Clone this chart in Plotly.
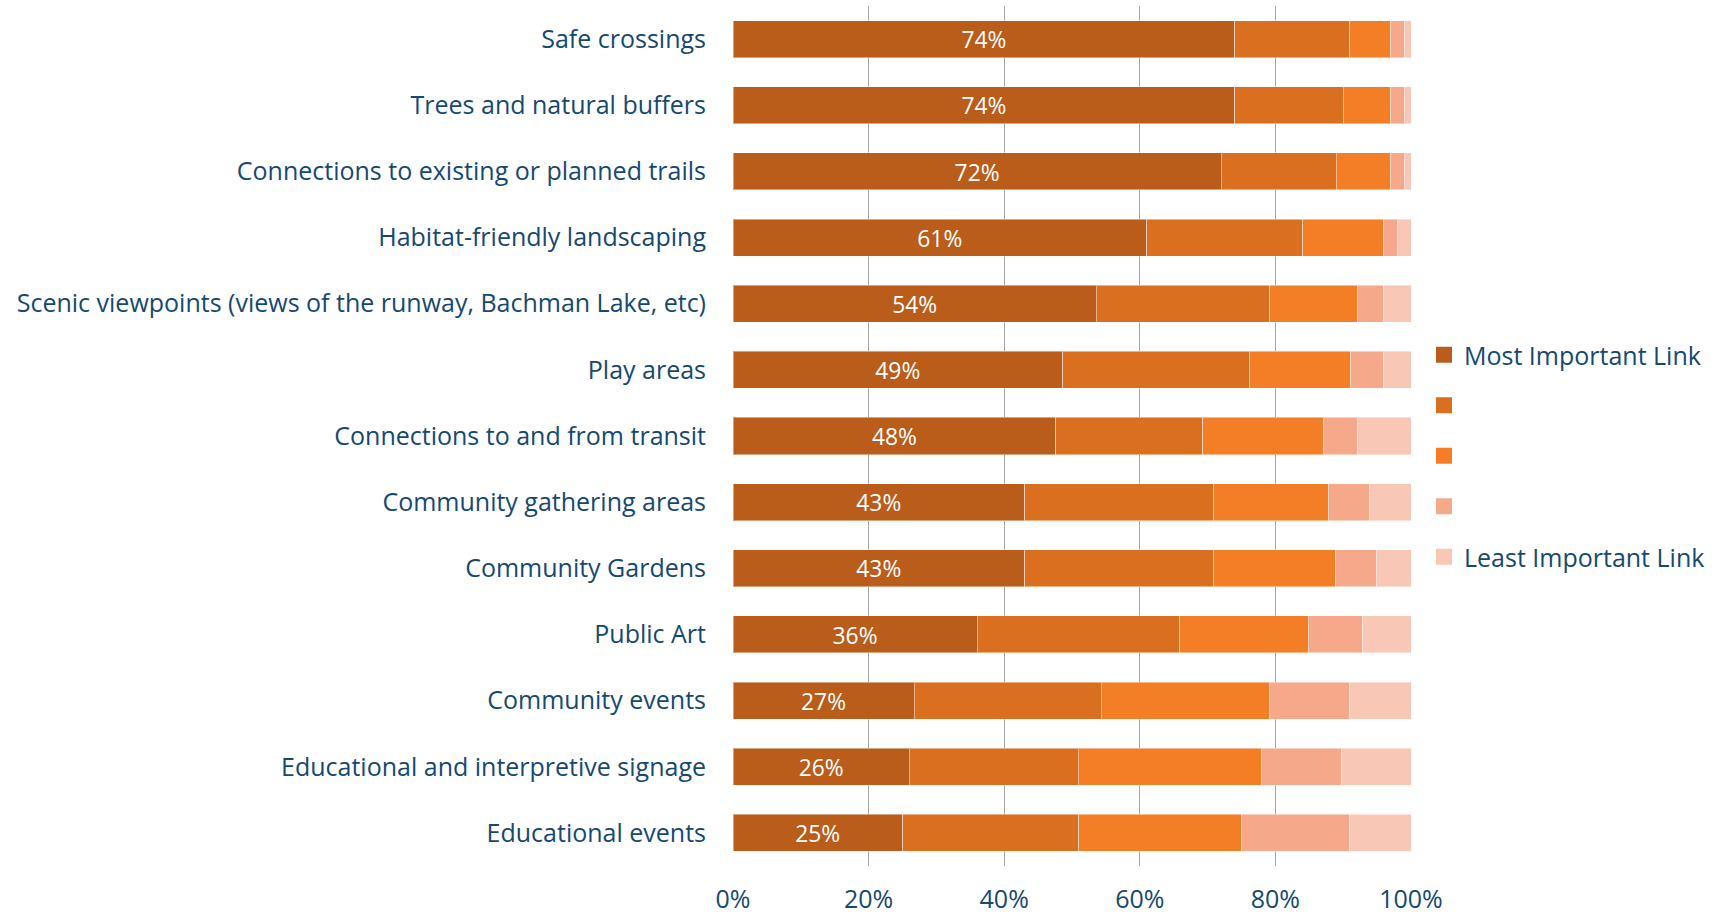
import plotly.graph_objects as go

categories = [
    "Safe crossings",
    "Trees and natural buffers",
    "Connections to existing or planned trails",
    "Habitat-friendly landscaping",
    "Scenic viewpoints (views of the runway, Bachman Lake, etc)",
    "Play areas",
    "Connections to and from transit",
    "Community gathering areas",
    "Community Gardens",
    "Public Art",
    "Community events",
    "Educational and interpretive signage",
    "Educational events",
]

rank1 = [74.0, 74.0, 72.0, 61.0, 53.6, 48.6, 47.6, 43.0, 43.0, 36.0, 26.7, 26.0, 25.0]
rank2 = [17.0, 16.0, 17.0, 23.0, 25.6, 27.6, 21.7, 27.9, 27.9, 29.9, 27.6, 24.9, 26.0]
rank3 = [6.0, 7.0, 8.0, 12.0, 12.9, 14.9, 17.8, 17.0, 18.0, 19.0, 24.8, 27.0, 24.0]
rank4 = [2.0, 2.0, 2.0, 2.0, 3.9, 4.9, 5.0, 6.0, 6.0, 8.0, 11.9, 11.9, 16.0]
rank5 = [1.0, 1.0, 1.0, 2.0, 4.0, 4.0, 7.9, 6.1, 5.1, 7.1, 9.0, 10.2, 9.0]

series_names = ["Most Important Link", "", " ", "  ", "Least Important Link"]
series_values = [rank1, rank2, rank3, rank4, rank5]
colors = ["#BA5C1A", "#DA6F1F", "#F47E26", "#F6A98A", "#F9C7B6"]
x_ticks = [0, 20, 40, 60, 80, 100]
x_tick_labels = ["0%", "20%", "40%", "60%", "80%", "100%"]

TEXT = "#16496F"
FONT = "Open Sans"
FS = 25

fig = go.Figure()
for i, (name, vals, col) in enumerate(zip(series_names, series_values, colors)):
    fig.add_trace(go.Bar(
        y=categories, x=vals, orientation="h", name=name,
        marker=dict(color=col, line=dict(color="rgba(255,255,255,0.45)", width=1)),
        showlegend=False,
        text=[f"{v:.0f}%" for v in vals] if i == 0 else None,
        textposition="inside" if i == 0 else "none",
        insidetextanchor="middle",
        textangle=0,
        textfont=dict(color="white", size=FS, family=FONT),
        hoverinfo="x+y",
    ))
    fig.add_trace(go.Scatter(
        x=[None], y=[None], mode="markers", name=name,
        marker=dict(symbol="square", color=col, size=16),
        legendgroup=f"g{i}", showlegend=True,
    ))

fig.update_layout(
    width=1715, height=918,
    margin=dict(l=733, r=304, t=6, b=52, autoexpand=False),
    barmode="stack", bargap=0.44,
    plot_bgcolor="white", paper_bgcolor="white",
    font=dict(family=FONT, size=FS, color=TEXT),
    uniformtext=dict(mode=False),
    legend=dict(
        xref="container", yref="container",
        x=1424 / 1715, xanchor="left",
        y=1 - 332 / 918, yanchor="top",
        traceorder="grouped", tracegroupgap=15,
        font=dict(family=FONT, size=FS, color=TEXT),
        itemwidth=30,
    ),
)
fig.update_xaxes(
    range=[0, 100], tickvals=x_ticks, ticktext=x_tick_labels,
    showgrid=True, gridcolor="#A6A6A6", gridwidth=1,
    zeroline=False, showline=False,
    ticks="",
    ticklabelstandoff=16, automargin=False,
)
fig.update_yaxes(
    autorange="reversed", showgrid=False, ticks="",
    ticklabelstandoff=26, automargin=False,
)

fig.write_html("out.html", config={"displayModeBar": False},
               post_script="document.body.style.margin='0';")
